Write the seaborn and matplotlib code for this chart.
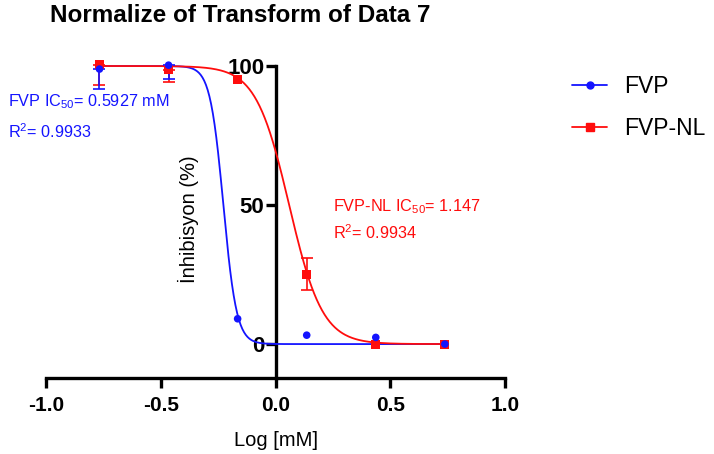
import numpy as np
import pandas as pd
import matplotlib
matplotlib.use("Agg")
import matplotlib.pyplot as plt
import seaborn as sns
from matplotlib.lines import Line2D

# ---- data ----
log_conc = [-0.767, -0.466, -0.165, 0.136, 0.437, 0.738]
fvp_mean = [98.9, 100.3, 9.1, 3.2, 2.4, 0.0]
fvp_err_low = [7.3, 5.0, 0.0, 0.0, 0.0, 0.0]
fvp_err_high = [0.0, 0.0, 0.0, 0.0, 0.0, 0.0]
fvpnl_mean = [100.4, 98.6, 95.3, 25.1, 0.0, 0.0]
fvpnl_err_low = [7.2, 4.5, 0.0, 5.7, 0.0, 0.0]
fvpnl_err_high = [0.0, 0.0, 0.0, 5.7, 0.0, 0.0]

# 4PL fit parameters
fvp_logic50 = np.log10(0.5927)
fvp_hill = 15.0
fvpnl_logic50 = np.log10(1.147)
fvpnl_hill = 6.0
top, bottom = 100.0, 0.0

series_names = ["FVP", "FVP-NL"]
xticks = [-1.0, -0.5, 0.0, 0.5, 1.0]
yticks = [0, 50, 100]

BLUE = "#1414ff"
RED = "#ff0d0d"

sns.set_style("ticks")
plt.rcParams["font.family"] = ["Liberation Sans", "DejaVu Sans"]
plt.rcParams["mathtext.default"] = "regular"
plt.rcParams["text.color"] = "black"
plt.rcParams["axes.labelcolor"] = "black"

fig = plt.figure(figsize=(7.14, 4.54), dpi=100)
W, H = 714, 454
ax = fig.add_axes([46 / W, 76 / H, 459 / W, 312 / H])

# fitted curves
xs = np.linspace(log_conc[0], log_conc[-1], 400)
def fourpl(x, logic, h):
    return bottom + (top - bottom) / (1 + 10 ** ((x - logic) * h))

curve = pd.DataFrame({
    "x": np.concatenate([xs, xs]),
    "y": np.concatenate([fourpl(xs, fvp_logic50, fvp_hill), fourpl(xs, fvpnl_logic50, fvpnl_hill)]),
    "s": [series_names[0]] * len(xs) + [series_names[1]] * len(xs),
})
sns.lineplot(data=curve, x="x", y="y", hue="s", palette=[BLUE, RED], lw=1.3,
             legend=False, ax=ax, clip_on=False, zorder=3)

# error bars (only where an error is present)
def draw_err(mean, lo, hi, color):
    idx = [i for i in range(len(mean)) if lo[i] > 0 or hi[i] > 0]
    ax.errorbar([log_conc[i] for i in idx], [mean[i] for i in idx],
                yerr=[[lo[i] for i in idx], [hi[i] for i in idx]], fmt="none",
                ecolor=color, elinewidth=1.2, capsize=4, capthick=1.2, clip_on=False, zorder=4)

draw_err(fvpnl_mean, fvpnl_err_low, fvpnl_err_high, RED)
draw_err(fvp_mean, fvp_err_low, fvp_err_high, BLUE)

pts = pd.DataFrame({"x": log_conc * 2, "y": fvpnl_mean + fvp_mean,
                    "s": [series_names[1]] * 6 + [series_names[0]] * 6})
sns.scatterplot(data=pts[pts.s == "FVP-NL"], x="x", y="y", color=RED, marker="s", s=42,
                edgecolor="none", ax=ax, clip_on=False, zorder=5, legend=False)
sns.scatterplot(data=pts[pts.s == "FVP"], x="x", y="y", color=BLUE, marker="o", s=30,
                edgecolor="none", ax=ax, clip_on=False, zorder=6, legend=False)

# axes styling (Prism-like)
ax.set_xlim(-1.0, 1.0)
ax.set_ylim(-12.2, 100)
ax.spines["left"].set_position(("data", 0))
ax.spines["right"].set_visible(False)
ax.spines["top"].set_visible(False)
for sp in ["left", "bottom"]:
    ax.spines[sp].set_linewidth(2.4)
    ax.spines[sp].set_color("black")
ax.set_xticks(xticks)
ax.set_xticklabels([f"{t:.1f}" for t in xticks])
ax.set_yticks(yticks)
ax.set_yticklabels([str(t) for t in yticks])
ax.tick_params(axis="both", width=2.4, length=7, direction="out", colors="black")
ax.tick_params(axis="x", pad=6, labelsize=15)
ax.tick_params(axis="y", pad=1, labelsize=16)
for lab in ax.get_xticklabels() + ax.get_yticklabels():
    lab.set_fontweight("bold")
ax.set_xlabel("")
ax.set_ylabel("")
fig.text(276 / W, 1 - 440 / H, "Log [mM]", ha="center", va="center", fontsize=14.5)
fig.text(188 / W, 1 - 219 / H, "İnhibisyon (%)", rotation=90, ha="center", va="center",
         fontsize=14.5)

# title
fig.text(240 / W, 1 - 16 / H, "Normalize of Transform of Data 7", ha="center", va="center",
         fontsize=17.5, fontweight="bold")

# annotations
fs_ann = 11.7
fig.text(8 / W, 1 - 102 / H, "FVP IC$_{50}$= 0.5927 mM", color=BLUE, fontsize=fs_ann, va="center")
fig.text(8 / W, 1 - 132 / H, "R$^{2}$= 0.9933", color=BLUE, fontsize=fs_ann, va="center")
fig.text(333 / W, 1 - 207 / H, "FVP-NL IC$_{50}$= 1.147", color=RED, fontsize=fs_ann, va="center")
fig.text(333 / W, 1 - 233 / H, "R$^{2}$= 0.9934", color=RED, fontsize=fs_ann, va="center")

# legend
handles = [Line2D([0], [0], color=BLUE, lw=1.3, marker="o", markersize=5),
           Line2D([0], [0], color=RED, lw=1.3, marker="s", markersize=6)]
fig.legend(handles, series_names, loc="upper left", bbox_to_anchor=(565 / W, 1 - 68 / H),
           frameon=False, fontsize=16.5, handlelength=1.55, labelspacing=0.85,
           handletextpad=0.72, borderaxespad=0, borderpad=0.3)

fig.savefig("out.png", dpi=100)
